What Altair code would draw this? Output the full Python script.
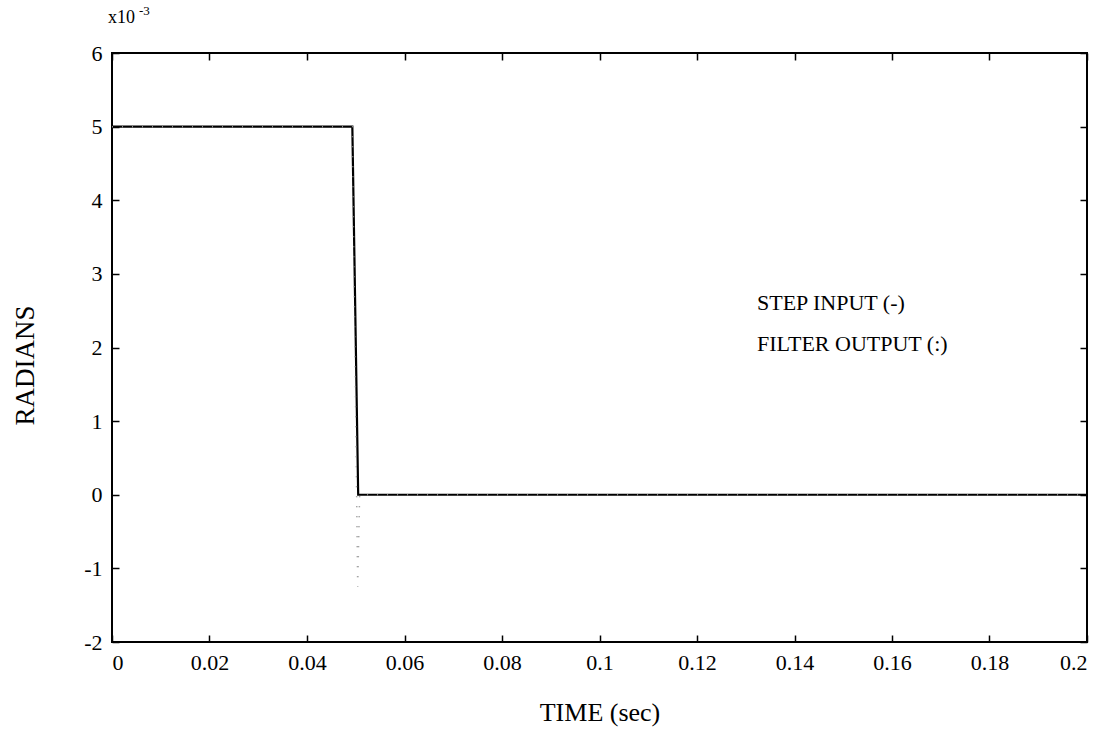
import altair as alt
import pandas as pd

# ---- data (values in units of 1e-3 rad) ----
step_t = [0.0, 0.0493, 0.0505, 0.2]
step_v = [5.0, 5.0, 0.0, 0.0]
filt_t = [0.0, 0.0493, 0.0504, 0.0508, 0.2]
filt_v = [5.0, 5.0, -1.25, 0.0, 0.0]
x_ticks = [0, 0.02, 0.04, 0.06, 0.08, 0.1, 0.12, 0.14, 0.16, 0.18, 0.2]
y_ticks = [-2, -1, 0, 1, 2, 3, 4, 5, 6]
legend_text = ["STEP INPUT (-)", "FILTER OUTPUT (:)"]
legend_t = [0.1323, 0.1323]
legend_v = [2.6, 2.05]

step_df = pd.DataFrame({"t": step_t, "v": step_v})
filt_df = pd.DataFrame({"t": filt_t, "v": filt_v})
leg_df = pd.DataFrame({"t": legend_t, "v": legend_v, "label": legend_text})

FONT = "Liberation Serif"
xscale = alt.Scale(domain=[0, 0.2], nice=False, zero=False)
yscale = alt.Scale(domain=[-2, 6], nice=False, zero=False)

common_axis = dict(domain=False, grid=False, ticks=True, tickSize=7, tickWidth=1.5,
                   tickColor="black", offset=-7)

x_bottom = alt.Axis(values=x_ticks, labelExpr="toString(datum.value)", labelFont=FONT,
                    labelFontSize=22, labelColor="black", labelPadding=10,
                    title="TIME (sec)", titleFont=FONT, titleFontSize=26,
                    titleFontWeight="normal", titleColor="black", titlePadding=26,
                    **common_axis)
y_left = alt.Axis(values=y_ticks, labelExpr="toString(datum.value)", labelFont=FONT,
                  labelFontSize=22, labelColor="black", labelPadding=10,
                  title="RADIANS", titleFont=FONT, titleFontSize=27,
                  titleFontWeight="normal", titleColor="black", titlePadding=44,
                  titleY=312,
                  **common_axis)
x_top = alt.Axis(values=x_ticks, labels=False, title=None, orient="top", **common_axis)
y_right = alt.Axis(values=y_ticks, labels=False, title=None, orient="right", **common_axis)

step = alt.Chart(step_df).mark_line(color="black", strokeWidth=2.2).encode(
    x=alt.X("t:Q", scale=xscale, axis=x_bottom),
    y=alt.Y("v:Q", scale=yscale, axis=y_left),
    order=alt.Order("t:Q"),
)

filt = alt.Chart(filt_df).mark_line(color="#888888", strokeWidth=1.5,
                                    strokeDash=[1, 9]).encode(
    x=alt.X("t:Q", scale=xscale, axis=x_top),
    y=alt.Y("v:Q", scale=yscale, axis=y_right),
)

legend = alt.Chart(leg_df).mark_text(align="left", baseline="middle", font=FONT,
                                     fontSize=22, color="black").encode(
    x=alt.X("t:Q", scale=xscale, axis=None),
    y=alt.Y("v:Q", scale=yscale, axis=None),
    text="label:N",
)

exp_base = alt.Chart(pd.DataFrame({"t": [0.0], "v": [6.0]})).mark_text(
    align="left", baseline="alphabetic", font=FONT, fontSize=18, color="black",
    dx=-4, dy=-30).encode(
    x=alt.X("t:Q", scale=xscale, axis=None),
    y=alt.Y("v:Q", scale=yscale, axis=None),
    text=alt.value("x10"),
)
exp_sup = alt.Chart(pd.DataFrame({"t": [0.0], "v": [6.0]})).mark_text(
    align="left", baseline="alphabetic", font=FONT, fontSize=13, color="black",
    dx=27, dy=-38).encode(
    x=alt.X("t:Q", scale=xscale, axis=None),
    y=alt.Y("v:Q", scale=yscale, axis=None),
    text=alt.value("-3"),
)

chart = alt.layer(step, filt, legend, exp_base, exp_sup).resolve_axis(
    x="independent", y="independent"
).properties(
    width=975, height=589,
    autosize=alt.AutoSizeParams(type="none"),
    padding={"left": 112, "top": 53, "right": 23, "bottom": 94},
    background="white",
).configure_view(stroke="black", strokeWidth=2)

chart.save("out.html", embed_options={"renderer": "svg", "actions": False})
